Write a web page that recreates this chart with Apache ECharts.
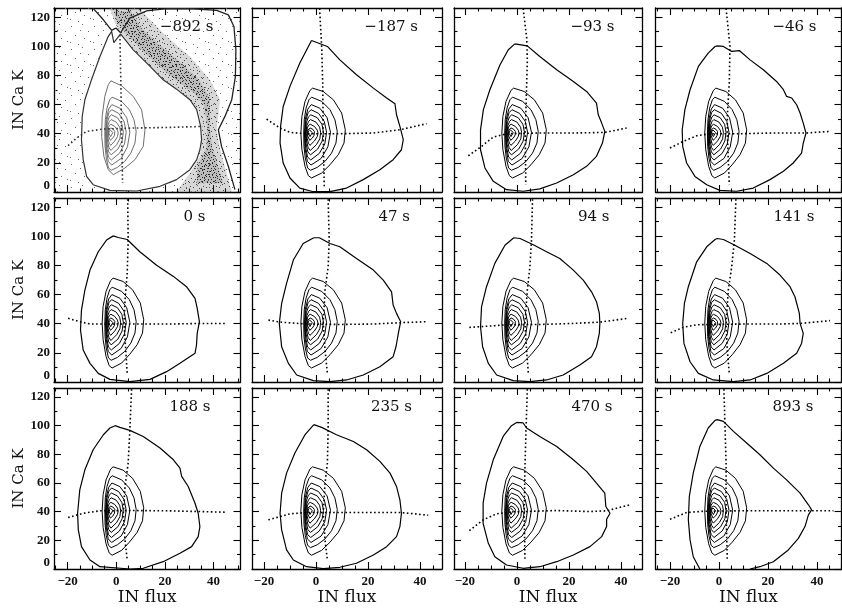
<!DOCTYPE html>
<html><head><meta charset="utf-8">
<script src="https://cdn.jsdelivr.net/npm/echarts@6/dist/echarts.min.js"></script>
<style>html,body{margin:0;padding:0;background:#fff}#c{width:842px;height:608px}</style>
</head><body><div id="c"></div>
<script>
// ---------------- DATA ----------------
const panelLabels = ['\u2212892 s', '\u2212187 s', '\u221293 s', '\u221246 s', '0 s', '47 s', '94 s', '141 s', '188 s', '235 s', '470 s', '893 s'];
const xTickMajor = [-20, 0, 20, 40];
const xTickMinor = [-25, -15, -10, -5, 5, 10, 15, 25, 30, 35, 45, 50];
const yTickMajor = [0, 20, 40, 60, 80, 100, 120];
const yTickMinor = [10, 30, 50, 70, 90, 110];

// shared inner (core) contours
const ic1 = [[-1.3,71.3],[2.8,69.0],[6.7,63.3],[9.9,54.2],[11.3,42.7],[10.8,33.6],[8.6,25.6],[5.4,18.7],[2.2,13.0],[-1.7,9.6],[-2.9,11.2],[-4.2,17.6],[-5.4,29.0],[-5.8,40.5],[-5.4,51.9],[-4.2,62.2],[-2.3,69.7]];
const ic2 = [[-1.7,65.1],[2.2,62.2],[5.4,56.5],[7.3,49.6],[8.2,41.6],[7.7,33.6],[6.0,26.7],[3.5,21.0],[0.5,16.9],[-2.1,14.9],[-3.2,16.5],[-4.1,23.3],[-4.6,31.3],[-4.7,40.5],[-4.5,49.6],[-3.8,57.6],[-2.7,63.3]];
const ic3 = [[-1.8,60],[1.5,57.5],[4.3,51],[5.6,41],[4.6,31],[2.0,23],[-1.9,18.5],[-3.3,21],[-4.2,30],[-4.4,40],[-4.1,50],[-3.1,57]];
const ic4 = [[-1.9,56.5],[1.0,54],[3.2,48.5],[4.1,41],[3.4,33],[1.3,26.5],[-2.0,22],[-3.2,24],[-4.0,31],[-4.2,40.5],[-3.9,49],[-3.0,54.5]];
const ic5 = [[-2.0,53],[0.5,51],[2.3,46.5],[2.9,41],[2.4,35],[0.7,29.5],[-2.1,25.5],[-3.1,27.5],[-3.8,33],[-4.0,40.5],[-3.7,47.5],[-2.9,51.5]];
const ic6 = [[-2.1,49.7],[0.0,48],[1.4,44.5],[1.8,41],[1.5,36.5],[0.2,32.5],[-2.2,28.5],[-3.0,30.5],[-3.6,35],[-3.8,40.5],[-3.5,45.5],[-2.8,48.5]];
const ic7 = [[-2.2,46.5],[-0.6,45],[0.5,42.5],[0.8,40.5],[0.5,38],[-0.6,35],[-2.3,32],[-2.9,33.5],[-3.4,37],[-3.5,40.5],[-3.3,44],[-2.8,45.8]];
const ic8 = [[-2.3,44],[-1.2,43],[-0.6,41.5],[-0.5,40.5],[-0.7,39],[-1.4,37],[-2.4,35.5],[-2.9,36.5],[-3.2,38.5],[-3.2,40.5],[-3.1,42.5],[-2.7,43.5]];
const ic9 = [[-2.4,42.5],[-1.7,41.8],[-1.4,40.8],[-1.6,39.5],[-2.3,38],[-2.8,38.8],[-3.0,40.3],[-2.9,41.8]];

// panel -892 s
const out_m892 = [[-3.3,106.7],[-1.9,110.2],[-1.0,102.6],[1.8,108.6],[7.0,97.6],[13.9,86.2],[19.3,77.0],[24.8,70.6],[30.3,63.3],[33.1,56.5],[34.7,45.0],[35.1,35.9],[34.4,29.0],[33.1,22.2],[30.3,15.3],[24.8,8.5],[18.0,3.9],[8.4,0.7],[-2.6,1.1],[-9.5,5.0],[-12.2,10.7],[-13.6,22.2],[-14.3,35.9],[-14.0,51.9],[-12.9,63.3],[-10.2,77.0],[-6.7,93.0]];
const in_m892 = [[-2.2,76.3],[2.2,72.9],[7.0,65.6],[10.4,56.5],[11.8,42.7],[11.1,31.3],[7.7,22.2],[3.6,16.5],[-1.2,11.9],[-3.3,15.3],[-5.1,24.5],[-6.0,38.2],[-5.8,51.9],[-4.7,65.6],[-3.3,73.6]];
const curveL_m892 = [[-9.5,126.0],[-5.3,118.2],[-1.9,110.9],[-0.1,112.6],[1.8,109.3]];
const curveU_m892 = [[1.8,109.3],[5.6,119.3],[12.5,124.3],[20.7,125.8],[31.7,125.8],[41.3,124.6],[46.1,121.6],[48.4,113.6],[49.2,97.6],[49.0,79.3],[47.5,63.3],[44.7,51.9],[42.0,42.7],[43.3,31.3],[46.1,17.6],[48.8,1.6]];
const band_m892 = [[-2.6,126],[9.7,126],[13.9,118.2],[20.7,106.7],[30.3,93.0],[38.5,77.0],[42.7,63.3],[41.3,42.7],[42.7,29.0],[47.5,0.3],[24.8,0.3],[30.3,13.0],[34.4,24.5],[35.5,40.5],[33.7,56.5],[30.3,63.3],[19.3,77.0],[8.4,95.3],[2.2,109.0],[-0.5,115.9]];
const core_m892 = [[-1.0,124],[6.0,124],[10.5,112],[18.5,100],[27.0,88],[34.5,76],[38.5,64],[38.5,45],[39.5,30],[44.0,6],[33.0,6],[33.5,18],[37.0,30],[37.5,45],[36.0,60],[32.0,68],[22.0,80],[12.0,95],[4.5,108],[0.5,116]];
const vert_m892 = [[1.5,107.9],[1.9,74.7],[2.2,40.5],[2.6,6.2]];
const hor_m892 = [[-19.8,31.8],[-16.3,37.0],[-12.2,41.6],[-5.3,43.2],[7.0,43.9],[20.7,44.3],[35.5,45.0]];

const out_m187 = [[-1.7,104],[4.4,99.9],[9.2,90.7],[15.6,80.5],[22.1,71.3],[27.2,64.5],[30.4,60.6],[31.0,53.0],[32.3,45.0],[33.6,35.9],[32.9,29.0],[29.7,22.2],[24.6,15.3],[18.2,8.5],[11.8,2.7],[5.4,0.2],[-1.0,0.2],[-6.2,2.7],[-10.0,9.6],[-12.6,19.9],[-13.8,33.6],[-13.6,45.0],[-12.6,58.7],[-10.0,72.5],[-6.2,88.5]];
const vert_m187 = [[1.4,126],[2.2,100],[2.6,75],[2.8,40],[3.0,20],[3.2,4]];
const hor_m187 = [[-19,50],[-13.8,43.9],[-10,40.9],[-3.6,40],[9.2,40],[22,40.5],[32.3,42.7],[42.6,46.9]];

const out_m93 = [[-0.8,101.7],[4.0,100.3],[8.8,93.0],[15.3,83.9],[21.7,75.9],[26.8,69.0],[30.6,61.0],[31.3,53.0],[32.6,47.3],[33.8,41.6],[32.9,33.6],[30.6,24.5],[26.8,17.6],[21.7,11.9],[15.3,6.2],[8.8,2.1],[2.4,0.5],[-4.0,1.6],[-9.1,7.3],[-12.3,16.5],[-14.0,29.0],[-14.0,42.7],[-12.9,56.5],[-10.4,70.2],[-6.5,87.3],[-3.3,97.6]];
const vert_m93 = [[2.4,126],[3.8,105],[4.0,90],[3.6,65],[3.2,40],[3.4,5]];
const hor_m93 = [[-18.7,24.9],[-13.6,31.3],[-9.1,37.7],[-4.0,40],[8.8,40.5],[21.7,40.5],[33.8,40.9],[42.2,43.9]];

const out_m46 = [[-0.7,100.3],[1.8,99.9],[5.2,96.5],[8.3,97.1],[12.7,90.7],[18.1,83.9],[23.5,75.9],[26.3,70.2],[27.6,65.6],[29.7,64.5],[31.7,59.9],[33.1,54.2],[34.4,47.3],[35.5,40.5],[34.4,33.6],[33.7,26.7],[30.3,19.9],[26.3,14.2],[20.8,8.5],[14.0,2.7],[7.2,0.5],[0.4,1.1],[-5.0,5.0],[-9.8,10.7],[-13.2,19.9],[-14.8,31.3],[-15.0,42.7],[-13.9,56.5],[-11.8,70.2],[-8.4,86.2],[-4.4,95.3],[-1.6,99.9]];
const vert_m46 = [[2.9,126],[4.5,99.9],[4.2,74.7],[3.4,51.9],[3.4,40.5],[4.2,5]];
const hor_m46 = [[-20,30.2],[-14.6,34.7],[-9.1,38.6],[-3.7,40],[8.6,40],[22.2,40.5],[35.5,40.5],[45.3,41.6]];

const out_0 = [[-1.2,100.3],[0.8,99.2],[4.5,97.8],[9.7,89.4],[16.6,80.2],[23.5,72.5],[28.9,65.4],[32.4,57.4],[33.3,50.5],[34.2,41.4],[33.3,33.4],[33.0,25.4],[32.4,19.7],[26.2,12.8],[20.7,7.1],[13.9,1.8],[5.6,0.2],[-2.6,1.8],[-7.4,5.9],[-10.8,12.8],[-13.6,21.9],[-14.7,35.7],[-14.3,49.4],[-12.9,63.1],[-10.8,76.8],[-7.4,89.4],[-4.0,97.4]];
const vert_0 = [[4.7,125.5],[4.9,97.4],[4.5,74.5],[3.6,56.2],[3.2,40.2],[4.0,19.7],[4.5,5.9]];
const hor_0 = [[-19.8,43.7],[-15.0,41.4],[-10.8,39.8],[-4.0,39.8],[9.7,39.8],[23.5,39.8],[34.2,40.2],[45.4,40.2]];

const out_47 = [[-0.8,99.0],[1.3,99.0],[5.4,95.1],[9.2,92.8],[15.6,84.8],[22.1,76.8],[25.9,69.9],[29.1,61.9],[29.7,52.8],[31.0,47.1],[32.6,41.4],[31.7,33.4],[30.8,24.2],[29.7,17.4],[24.6,10.5],[18.2,4.8],[11.8,1.4],[5.4,0.2],[-1.0,0.9],[-7.4,4.8],[-10.6,12.8],[-13.2,24.2],[-14.1,40.2],[-13.2,53.9],[-11.3,67.7],[-8.7,83.7],[-4.9,95.1]];
const vert_47 = [[4.7,125.5],[5.1,97.4],[4.7,79.1],[3.5,63.1],[2.8,40.2],[3.5,21.9],[4.4,5.9]];
const hor_47 = [[-18.3,42.5],[-13.8,41.1],[-3.6,39.8],[9.2,39.5],[22.1,39.8],[32.3,40.7],[42.6,41.4]];

const out_94 = [[-1.2,99.0],[1.2,98.5],[6.3,94.2],[11.4,89.4],[16.5,84.8],[21.7,76.8],[25.5,69.9],[28.7,61.9],[30.6,55.1],[31.7,47.1],[31.9,40.2],[31.7,33.4],[30.6,24.2],[28.7,17.4],[24.2,11.7],[17.8,4.8],[11.4,1.4],[5.0,0.2],[-1.4,0.9],[-7.8,4.8],[-11.0,12.8],[-13.2,24.2],[-14.0,37.9],[-13.6,51.7],[-11.7,65.4],[-8.5,81.4],[-4.6,93.9]];
const vert_94 = [[6.0,125.5],[5.6,97.4],[5.0,79.1],[4.0,63.1],[3.1,40.2],[3.7,21.9],[4.4,5.9]];
const hor_94 = [[-18.3,37.5],[-10.4,38.4],[-4.0,39.3],[8.8,39.5],[21.7,40.2],[31.9,41.1],[42.8,43.7]];

const out_141 = [[-0.7,98.5],[1.8,97.8],[6.5,93.9],[12.7,88.2],[19.5,81.4],[24.9,73.4],[29.0,65.4],[31.0,58.5],[32.8,47.1],[33.1,40.2],[34.4,33.4],[33.7,26.5],[31.7,19.7],[26.3,12.8],[19.5,5.9],[12.7,1.4],[5.9,0.2],[-2.3,1.4],[-8.4,5.9],[-11.8,13.9],[-14.3,26.5],[-14.8,40.2],[-14.1,53.9],[-12.5,65.4],[-9.1,82.5],[-5.0,92.8],[-1.6,97.8]];
const vert_141 = [[6.9,125.5],[6.3,97.4],[5.2,79.1],[3.8,63.1],[2.9,40.2],[3.4,21.9],[4.2,5.9]];
const hor_141 = [[-19.7,33.8],[-14.6,37.5],[-9.1,39.3],[-2.3,39.5],[11.3,39.8],[24.9,39.8],[33.1,40.2],[45.3,42.1]];

const out_188 = [[-0.5,100.0],[1.5,98.8],[5.6,96.7],[11.1,92.5],[18.0,84.4],[23.5,76.2],[26.2,70.4],[26.9,64.6],[29.6,57.6],[32.4,45.9],[33.7,38.9],[34.4,29.6],[33.7,22.6],[31.0,15.6],[26.2,11.0],[19.3,5.1],[11.1,0.5],[5.6,0.0],[-6.7,1.6],[-10.8,6.3],[-14.3,15.6],[-15.6,27.3],[-15.9,38.9],[-15.0,55.2],[-12.9,69.2],[-9.5,83.2],[-5.3,93.7],[-2.6,98.4]];
const vert_188 = [[6.3,125.5],[5.6,97.2],[4.9,73.9],[3.6,57.6],[2.9,38.9],[3.6,20.3],[4.5,6.3]];
const hor_188 = [[-19.8,35.9],[-13.6,38.9],[-6.7,40.6],[7.0,40.8],[20.7,40.6],[34.4,40.1],[45.4,39.6]];

const out_235 = [[-0.8,100.7],[2.2,98.8],[7.9,93.7],[14.4,89.0],[19.5,83.2],[24.6,75.1],[28.5,66.9],[31.0,57.6],[32.3,48.3],[32.9,38.9],[32.3,29.6],[31.0,22.6],[27.2,15.6],[22.1,9.8],[15.6,4.0],[9.2,1.2],[2.8,0.2],[-3.6,1.6],[-8.7,6.3],[-11.3,13.3],[-13.2,27.3],[-13.8,38.9],[-13.2,52.9],[-11.3,66.9],[-8.1,80.9],[-4.2,93.7]];
const vert_235 = [[4.7,125.5],[4.7,97.2],[4.4,73.9],[3.5,59.9],[2.8,38.9],[3.5,20.3],[4.4,6.3]];
const hor_235 = [[-18.3,34.3],[-10.0,38.5],[-3.6,39.4],[9.2,39.4],[22.1,39.4],[32.9,39.4],[43.2,37.5]];

const out_470 = [[-0.1,102.3],[2.4,101.9],[3.7,98.4],[8.8,92.5],[15.3,85.5],[21.7,76.2],[26.8,68.1],[30.6,59.9],[33.8,52.9],[34.2,43.6],[35.8,38.9],[34.5,34.7],[34.5,29.6],[32.6,22.6],[28.1,15.6],[21.7,9.8],[15.3,5.1],[8.8,1.6],[2.4,0.5],[-4.0,2.8],[-8.5,8.6],[-11.0,17.9],[-13.0,31.9],[-13.0,45.9],[-11.7,59.9],[-9.1,76.2],[-5.3,92.5],[-2.1,100.0]];
const vert_470 = [[4.0,125.5],[3.5,97.2],[3.1,71.6],[2.8,38.9],[3.1,6.3]];
const hor_470 = [[-18.3,26.8],[-13.0,34.3],[-7.8,38.5],[-1.4,39.9],[15.3,40.8],[28.1,40.1],[34.5,40.6],[43.5,44.8]];

const out_893 = [[-7.8,0.0],[-10.5,8.6],[-11.8,20.3],[-12.5,34.3],[-12.1,50.6],[-10.5,66.9],[-7.8,85.5],[-4.4,98.4],[-1.6,103.7],[-0.7,104.2],[1.8,103.0],[5.9,96.0],[11.3,87.9],[16.7,79.7],[22.2,70.4],[27.6,62.2],[33.1,52.9],[36.5,44.8],[37.8,41.3],[36.5,37.8],[35.1,29.6],[32.4,21.4],[28.3,13.3],[22.2,5.1],[16.7,1.6],[12.7,0.0]];
const vert_893 = [[2.0,125.5],[2.4,103.0],[2.9,73.9],[2.9,38.9],[3.4,6.3]];
const hor_893 = [[-20.0,34.7],[-13.2,39.4],[-6.4,40.3],[7.2,40.6],[20.8,40.6],[37.8,40.6],[46.7,40.6]];

// ---------------- LAYOUT ----------------
const W = 842;
const colLeft = [54, 252, 454, 655.5], colRight = [240.5, 442, 642.5, 841.5];
const rowTop = [8, 198, 388], rowBottom = [192, 382, 569];
const xMinCol = [-25.6, -24.6, -24.2, -25.9], xMaxCol = [51.1, 48.5, 48.3, 50.0];
const yMin = 0, yMax = 126.3;
const labelRightGap = [27, 24, 28, 25, 35, 32, 33, 27, 30, 30, 30, 28];

const sharedInner = [ic1, ic2, ic3, ic4, ic5, ic6, ic7, ic8, ic9];
const panels = [
  {outer: out_m892, vert: vert_m892, hor: hor_m892, inner: [in_m892, ic2, ic3, ic4, ic5, ic6, ic7, ic8, ic9], closed: true, first: true},
  {outer: out_m187, vert: vert_m187, hor: hor_m187, inner: sharedInner, closed: true},
  {outer: out_m93, vert: vert_m93, hor: hor_m93, inner: sharedInner, closed: true},
  {outer: out_m46, vert: vert_m46, hor: hor_m46, inner: sharedInner, closed: true},
  {outer: out_0, vert: vert_0, hor: hor_0, inner: sharedInner, closed: true},
  {outer: out_47, vert: vert_47, hor: hor_47, inner: sharedInner, closed: true},
  {outer: out_94, vert: vert_94, hor: hor_94, inner: sharedInner, closed: true},
  {outer: out_141, vert: vert_141, hor: hor_141, inner: sharedInner, closed: true},
  {outer: out_188, vert: vert_188, hor: hor_188, inner: sharedInner, closed: true},
  {outer: out_235, vert: vert_235, hor: hor_235, inner: sharedInner, closed: true},
  {outer: out_470, vert: vert_470, hor: hor_470, inner: sharedInner, closed: true},
  {outer: out_893, vert: vert_893, hor: hor_893, inner: sharedInner, closed: false}
];

// ---------------- STYLE HELPERS ----------------
function makePattern(size, dots, color) {
  const cv = document.createElement('canvas');
  cv.width = size; cv.height = size;
  const ctx = cv.getContext('2d');
  ctx.fillStyle = color;
  dots.forEach(d => ctx.fillRect(d[0], d[1], 1, 1));
  return {image: cv, repeat: 'repeat'};
}
// speckle textures (styling only)
const sparseFill = makePattern(23, [[2,3],[13,1],[19,8],[6,12],[15,15],[1,19],[9,21],[21,18],[11,7]], '#6a6a6a');
const midFill = makePattern(13, [[1,2],[7,0],[11,5],[4,6],[9,9],[0,10],[6,12],[12,12],[3,1],[8,4],[2,8]], '#444');
const denseFill = makePattern(11, [[0,0],[4,1],[8,0],[2,3],[6,4],[10,3],[1,6],[5,7],[9,6],[3,9],[7,10],[0,9],[10,9],[6,1],[4,5]], '#222');

const AXC = '#000';
const tickFont = {color: '#111', fontFamily: 'Liberation Serif', fontWeight: 'bold', fontSize: 13};
const nameFont = {color: '#111', fontFamily: 'DejaVu Serif', fontSize: 16};
const minus = v => String(v).replace('-', '\u2212');
const inRange = (arr, a, b) => arr.filter(v => v >= a && v <= b);

const grids = [], xAxes = [], yAxes = [], series = [], titles = [];
const close = a => a.concat([a[0]]);

function lineS(xi, yi, data, style, z) {
  return {type: 'line', xAxisIndex: xi, yAxisIndex: yi, data: data, symbol: 'none', showSymbol: false,
    silent: true, animation: false, lineStyle: style, z: z, clip: true};
}
function polyS(xi, yi, pts, fill, z) {
  return {type: 'custom', xAxisIndex: xi, yAxisIndex: yi, silent: true, animation: false, z: z, clip: true,
    data: [pts[0]],
    renderItem: function (params, api) {
      return {type: 'polygon', shape: {points: pts.map(p => api.coord(p))}, style: {fill: fill, stroke: null}};
    }};
}

panels.forEach((p, i) => {
  const r = Math.floor(i / 4), c = i % 4;
  const isBottom = r === 2, isLeft = c === 0;
  const x0 = xMinCol[c], x1 = xMaxCol[c];
  grids.push({left: colLeft[c], top: rowTop[r], width: colRight[c] - colLeft[c], height: rowBottom[r] - rowTop[r]});
  const xi = xAxes.length, yi = yAxes.length;
  const bx = {gridIndex: i, type: 'value', min: x0, max: x1, splitLine: {show: false}};
  const by = {gridIndex: i, type: 'value', min: yMin, max: yMax, splitLine: {show: false}};
  const lineOn = {show: true, onZero: false, lineStyle: {color: AXC, width: 1.3}};
  const lineOff = {show: false, onZero: false};
  const tk = (len, vals) => ({show: true, inside: true, length: len, customValues: vals, lineStyle: {color: AXC, width: 1.1}});
  const xM = inRange(xTickMajor, x0, x1), xm = inRange(xTickMinor, x0, x1);
  xAxes.push(Object.assign({}, bx, {position: 'bottom', axisLine: lineOn, axisTick: tk(7, xM),
    axisLabel: Object.assign({show: isBottom, customValues: xM, formatter: minus, margin: 6}, tickFont),
    name: isBottom ? 'IN flux' : '', nameLocation: 'middle', nameGap: 20, nameTextStyle: Object.assign({}, nameFont, {fontSize: 17})}));
  xAxes.push(Object.assign({}, bx, {position: 'bottom', axisLine: lineOff, axisTick: tk(3.5, xm), axisLabel: {show: false}}));
  xAxes.push(Object.assign({}, bx, {position: 'top', axisLine: lineOn, axisTick: tk(7, xM), axisLabel: {show: false}}));
  xAxes.push(Object.assign({}, bx, {position: 'top', axisLine: lineOff, axisTick: tk(3.5, xm), axisLabel: {show: false}}));
  yAxes.push(Object.assign({}, by, {position: 'left', axisLine: lineOn, axisTick: tk(7, yTickMajor),
    axisLabel: Object.assign({show: isLeft, customValues: yTickMajor, margin: 4, verticalAlignMinLabel: 'bottom'}, tickFont),
    name: isLeft ? 'IN Ca K' : '', nameLocation: 'middle', nameRotate: 90, nameGap: 27, nameTextStyle: Object.assign({}, nameFont, {fontSize: 15})}));
  yAxes.push(Object.assign({}, by, {position: 'left', axisLine: lineOff, axisTick: tk(3.5, yTickMinor), axisLabel: {show: false}}));
  yAxes.push(Object.assign({}, by, {position: 'right', axisLine: lineOn, axisTick: tk(7, yTickMajor), axisLabel: {show: false}}));
  yAxes.push(Object.assign({}, by, {position: 'right', axisLine: lineOff, axisTick: tk(3.5, yTickMinor), axisLabel: {show: false}}));

  const innerColor = p.first ? '#6e6e6e' : '#000';
  if (p.first) {
    series.push(polyS(xi, yi, [[x0, yMin], [x1, yMin], [x1, yMax], [x0, yMax]], sparseFill, 1));
    series.push(polyS(xi, yi, band_m892, 'rgba(100,100,100,0.26)', 2));
    series.push(polyS(xi, yi, band_m892, midFill, 2));
    series.push(polyS(xi, yi, core_m892, 'rgba(80,80,80,0.2)', 3));
    series.push(polyS(xi, yi, core_m892, denseFill, 3));
    series.push(polyS(xi, yi, p.outer, '#fff', 4));
    series.push(lineS(xi, yi, curveL_m892, {color: '#222', width: 1.3}, 6));
    series.push(lineS(xi, yi, curveU_m892, {color: '#222', width: 1.3}, 6));
  }
  series.push(lineS(xi, yi, p.closed ? close(p.outer) : p.outer, {color: p.first ? '#333' : '#000', width: 1.2}, 6));
  p.inner.forEach(ct => series.push(lineS(xi, yi, close(ct), {color: innerColor, width: 1.0}, 6)));
  const dot = {color: p.first ? '#333' : '#000', width: 1.6, type: [1.6, 2.5]};
  series.push(lineS(xi, yi, p.vert, dot, 7));
  series.push(lineS(xi, yi, p.hor, dot, 7));

  titles.push({text: panelLabels[i], right: W - colRight[c] + labelRightGap[i], top: rowTop[r] + 11, padding: 0,
    textStyle: {fontFamily: 'DejaVu Serif', fontSize: 15, fontWeight: 'normal', color: '#111', lineHeight: 16}});
});

const chart = echarts.init(document.getElementById('c'), null, {renderer: 'canvas'});
chart.setOption({
  animation: false,
  backgroundColor: '#fff',
  title: titles,
  grid: grids,
  xAxis: xAxes,
  yAxis: yAxes,
  series: series
});
</script></body></html>
